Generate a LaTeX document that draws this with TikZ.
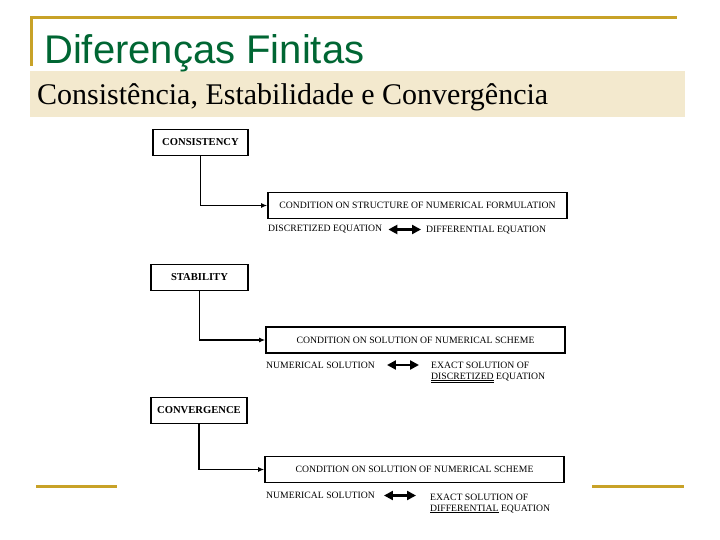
\documentclass[tikz,border=0pt]{standalone}
\usepackage{fontspec}
\setmainfont{Liberation Serif}
\newfontfamily\arialfont{Liberation Sans}
\usetikzlibrary{arrows.meta}
\definecolor{gold}{RGB}{200,162,40}
\definecolor{titlegreen}{RGB}{0,102,51}
\definecolor{beige}{RGB}{243,233,206}

\begin{document}
\begin{tikzpicture}[x=1pt,y=-1pt,
  lbl/.style={font=\fontsize{9.7}{11}\selectfont,inner sep=0pt,anchor=west},
  head/.style={draw,line width=1.6pt,font=\fontsize{10.6}{11}\selectfont\bfseries,minimum height=26pt},
  cond/.style={draw,line width=1.6pt,minimum width=299pt,minimum height=26pt,font=\fontsize{9.7}{11}\selectfont},
  conn/.style={line width=1.4pt,-{Latex[length=6pt,width=5pt]}},
  both/.style={line width=2.6pt,{Triangle[length=9pt,width=9pt]}-{Triangle[length=9pt,width=9pt]}}]
  \useasboundingbox (0,0) rectangle (720,540);
  % slide header
  \draw[gold,line width=3pt] (31,66) -- (31,18) -- (677,18);
  \fill[beige] (30,71) rectangle (685,117);
  \node[anchor=base west,inner sep=0,text=titlegreen,font=\arialfont\fontsize{40}{44}\selectfont] (title) at (44,64) {Diferenças Finitas};
  \node[anchor=base west,inner sep=0,font=\fontsize{30}{34}\selectfont] (subtitle) at (37,105) {Consistência, Estabilidade e Convergência};
  \draw[gold,line width=3pt] (36,486) -- (117,486);
  \draw[gold,line width=3pt] (592,486) -- (684,486);

  % consistency
  \node[head,minimum width=95pt] (cons) at (200.5,142.5) {CONSISTENCY};
  \node[cond] (cond1) at (417.5,205.5) {CONDITION ON STRUCTURE OF NUMERICAL FORMULATION};
  \node[lbl] (disc1) at (268,229.5) {DISCRETIZED EQUATION};
  \node[lbl] (diff1) at (426,230) {DIFFERENTIAL EQUATION};
  \draw[conn] (cons.south) |- (cond1.west);
  \draw[both,shorten <=6pt,shorten >=5pt] (disc1.east) -- (disc1.east -| diff1.west);

  % stability
  \node[head,minimum width=97pt] (stab) at (199.5,277.5) {STABILITY};
  \node[cond] (cond2) at (415.5,340) {CONDITION ON SOLUTION OF NUMERICAL SCHEME};
  \node[lbl] (num2) at (266,365) {NUMERICAL SOLUTION};
  \node[lbl,align=left] (exact2) at (431,372.5) {EXACT SOLUTION OF\\\underline{\underline{DISCRETIZED}} EQUATION};
  \draw[conn] (stab.south) |- (cond2.west);
  \draw[both,shorten <=12pt,shorten >=12pt] (num2.east) -- (num2.east -| exact2.west);

  % convergence
  \node[head,minimum width=96pt] (conv) at (199,410.5) {CONVERGENCE};
  \node[cond] (cond3) at (414.5,469.5) {CONDITION ON SOLUTION OF NUMERICAL SCHEME};
  \node[lbl] (num3) at (266,495.5) {NUMERICAL SOLUTION};
  \node[lbl,align=left] (exact3) at (430,503.5) {EXACT SOLUTION OF\\\underline{DIFFERENTIAL} EQUATION};
  \draw[conn] (conv.south) |- (cond3.west);
  \draw[both,shorten <=9pt,shorten >=14pt] (num3.east) -- (num3.east -| exact3.west);
\end{tikzpicture}
\end{document}
